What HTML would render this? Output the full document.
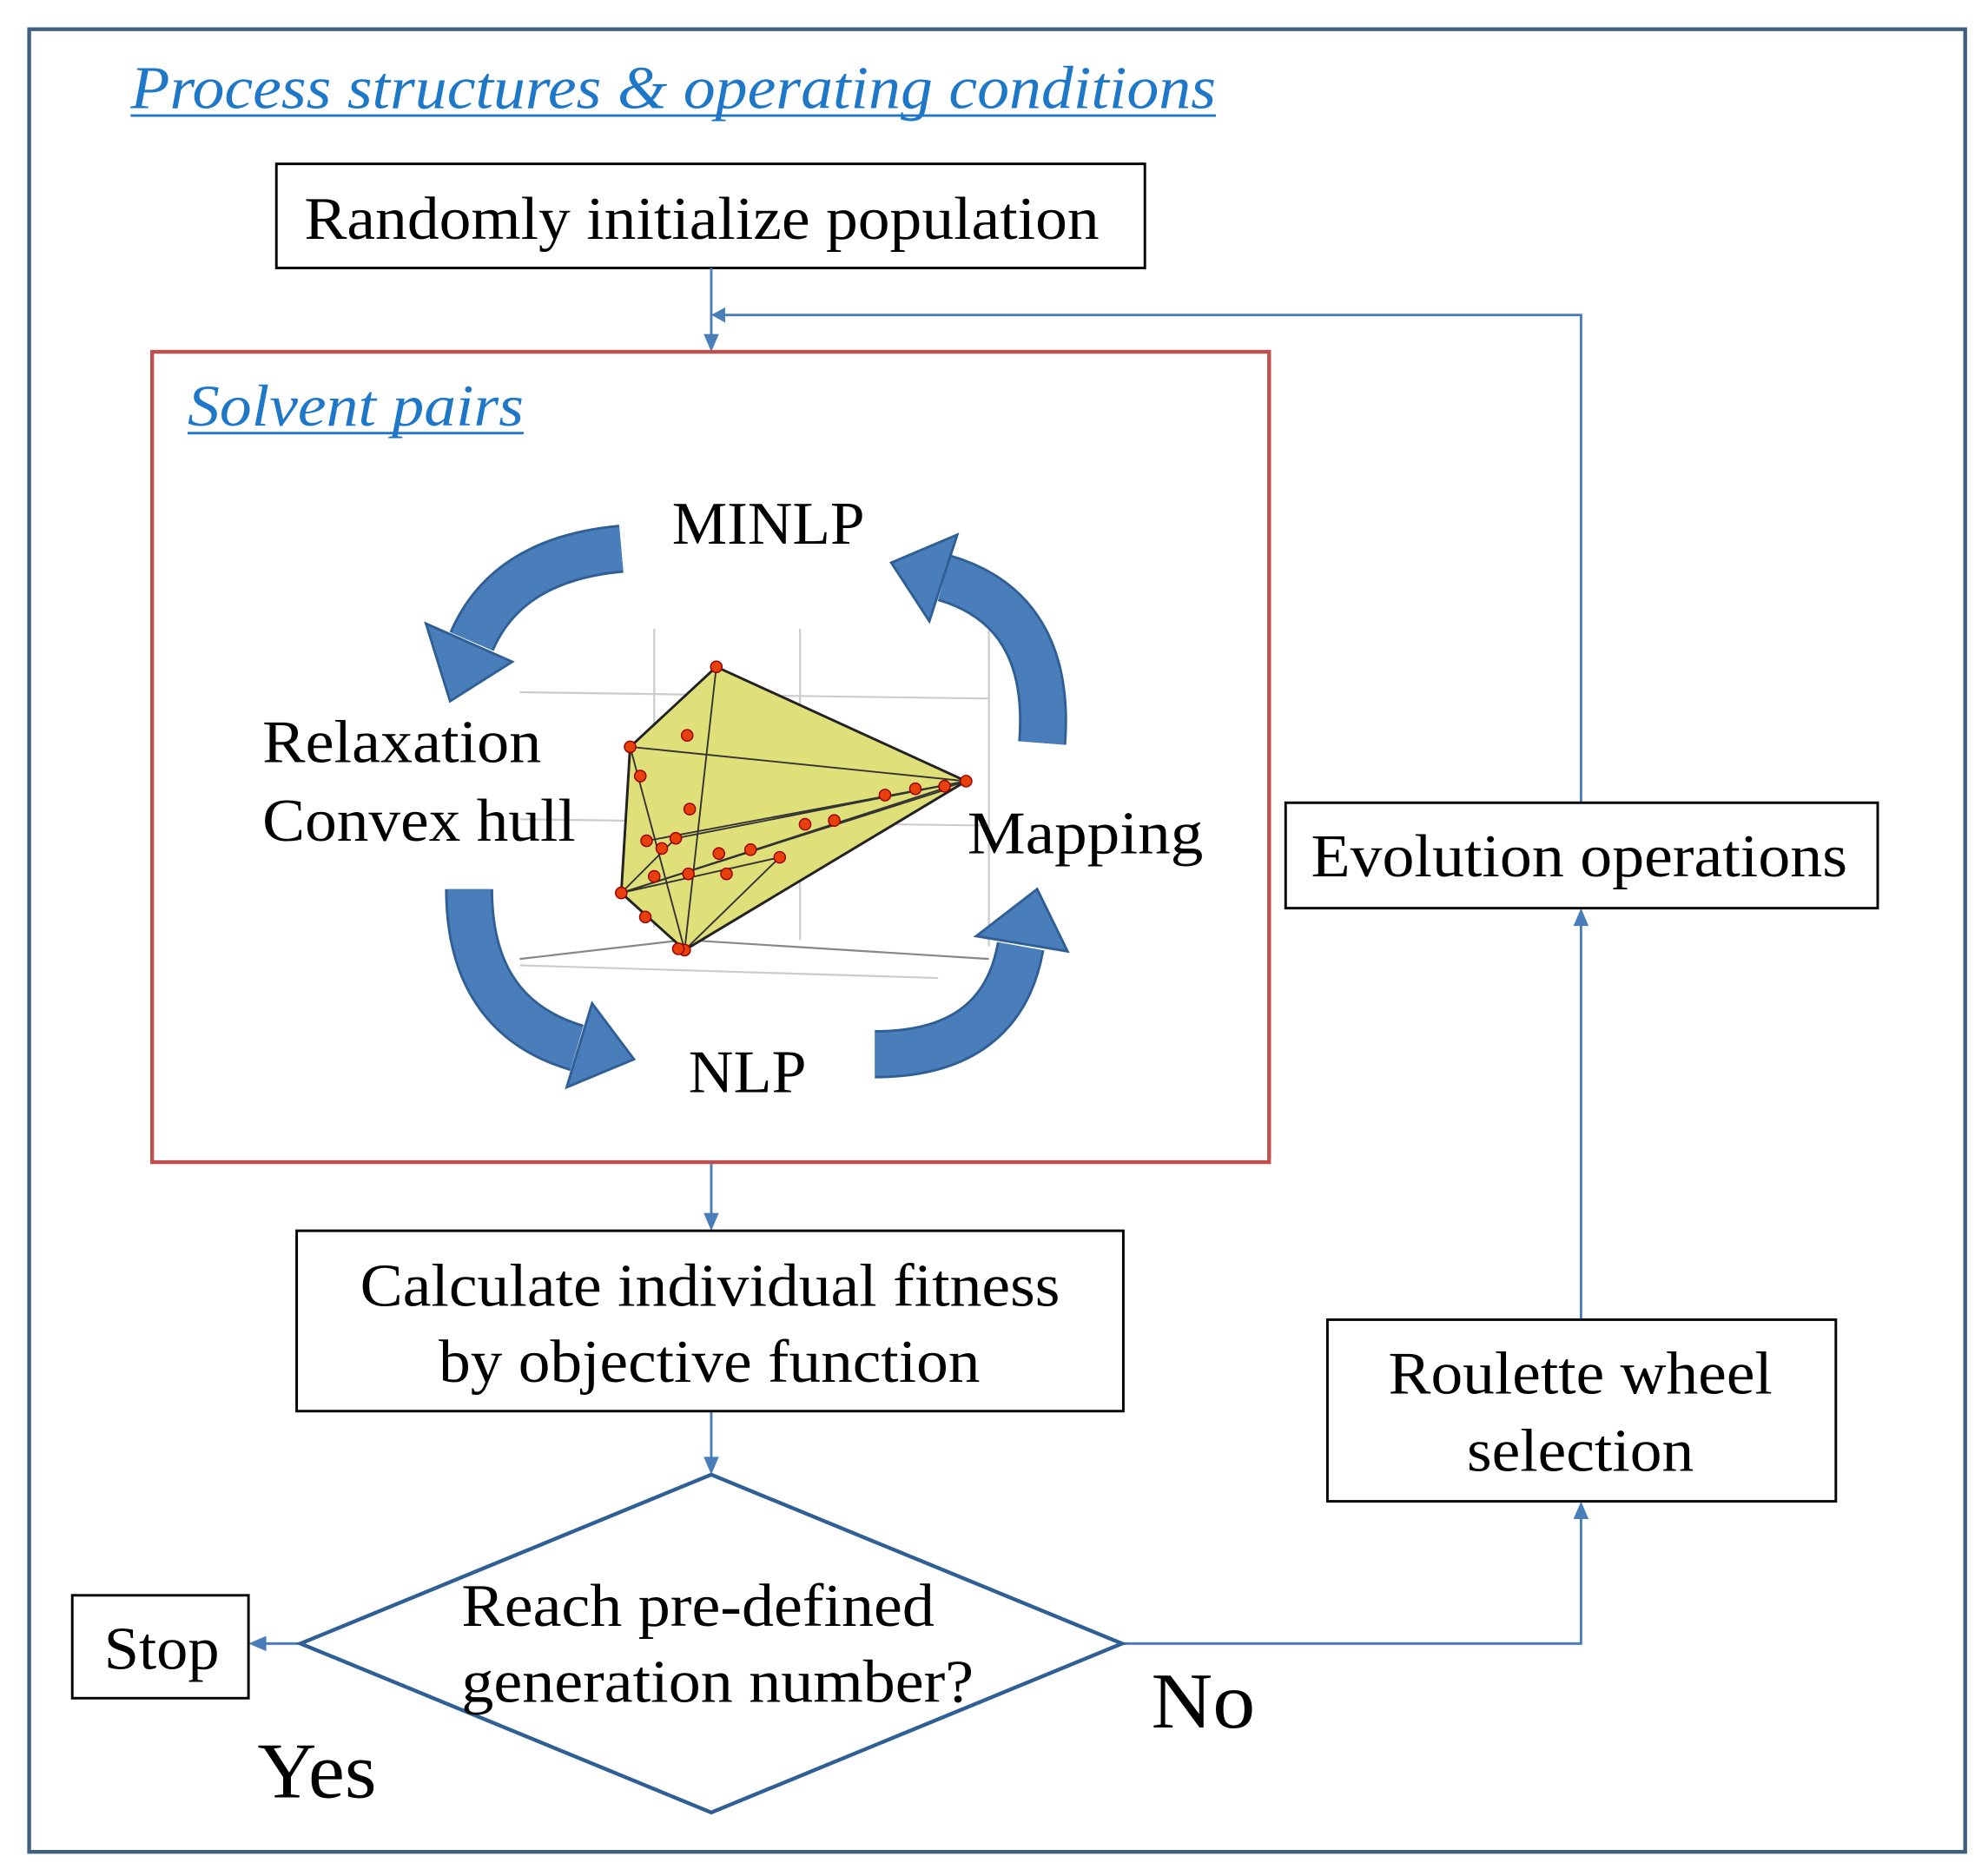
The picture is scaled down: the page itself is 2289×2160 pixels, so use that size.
<!DOCTYPE html>
<html><head><meta charset="utf-8"><style>html,body{margin:0;padding:0;background:#fff}svg{display:block}</style></head>
<body>
<svg width="2289" height="2160" viewBox="0 0 1568 1477" preserveAspectRatio="none" xmlns="http://www.w3.org/2000/svg" font-family="Liberation Serif, serif">
<rect x="0" y="0" width="1568" height="1477" fill="#fff"/>
<rect x="23" y="23" width="1527" height="1435" fill="none" stroke="#3f5f7f" stroke-width="3"/>
<text x="103" y="85" font-size="48" font-style="italic" fill="#1f77c8" textLength="856" lengthAdjust="spacingAndGlyphs">Process structures &amp; operating conditions</text>
<line x1="103" y1="91" x2="959" y2="91" stroke="#1f77c8" stroke-width="2"/>
<rect x="218" y="129" width="685" height="82" fill="#fff" stroke="#000" stroke-width="2"/>
<g font-size="48" fill="#000" lengthAdjust="spacingAndGlyphs">
<text x="240" y="188" textLength="627" lengthAdjust="spacingAndGlyphs">Randomly initialize population</text>
</g>
<g stroke="#4a7ebb" stroke-width="2" fill="none">
<line x1="561" y1="211" x2="561" y2="270"/>
<polyline points="1247,632 1247,248 568,248"/>
<line x1="561" y1="915" x2="561" y2="962"/>
<line x1="561" y1="1111" x2="561" y2="1154"/>
<line x1="237" y1="1294" x2="204" y2="1294"/>
<polyline points="885,1294 1247,1294 1247,1190"/>
<line x1="1247" y1="1039" x2="1247" y2="723"/>
</g>
<g fill="#4a7ebb">
<polygon points="561,277 555,263 567,263"/>
<polygon points="561,248 572,242 572,254"/>
<polygon points="561,969 555,955 567,955"/>
<polygon points="561,1161 555,1147 567,1147"/>
<polygon points="196,1294 210,1288 210,1300"/>
<polygon points="1247,1182 1241,1196 1253,1196"/>
<polygon points="1247,715 1241,729 1253,729"/>
</g>
<rect x="120" y="277" width="881" height="638" fill="none" stroke="#c0504d" stroke-width="3"/>
<text x="148" y="335" font-size="46" font-style="italic" fill="#1f77c8" textLength="265" lengthAdjust="spacingAndGlyphs">Solvent pairs</text>
<line x1="148" y1="341" x2="413" y2="341" stroke="#1f77c8" stroke-width="2"/>
<g stroke="#ccc" stroke-width="1.5" fill="none">
<line x1="516" y1="495" x2="516" y2="730"/>
<line x1="631" y1="495" x2="631" y2="740"/>
<line x1="780" y1="495" x2="780" y2="745"/>
<line x1="410" y1="545" x2="780" y2="550"/>
<line x1="410" y1="645" x2="780" y2="650"/>
<line x1="410" y1="760" x2="740" y2="770"/>
</g>
<g stroke="#888" stroke-width="1.5"><line x1="410" y1="755" x2="540" y2="740"/><line x1="540" y1="740" x2="780" y2="755"/></g>
<polygon points="565,525 762,615 540,748 490,703 497,588" fill="#e0e07a" stroke="#222" stroke-width="2"/>
<g stroke="#333" stroke-width="1.3" fill="none">
<line x1="565" y1="525" x2="540" y2="748"/>
<line x1="497" y1="588" x2="762" y2="615"/>
<line x1="497" y1="588" x2="540" y2="748"/>
<line x1="510" y1="662" x2="762" y2="615"/>
<line x1="490" y1="703" x2="762" y2="615"/>
<line x1="490" y1="703" x2="745" y2="622"/>
<line x1="490" y1="703" x2="533" y2="660"/>
<line x1="540" y1="748" x2="615" y2="675"/>
<line x1="533" y1="660" x2="762" y2="615"/>
<line x1="490" y1="703" x2="615" y2="675"/>
</g>
<g fill="#e8400a" stroke="#900" stroke-width="1">
<circle cx="565" cy="525" r="4.5"/><circle cx="497" cy="588" r="4.5"/><circle cx="762" cy="615" r="4.5"/>
<circle cx="490" cy="703" r="4.5"/><circle cx="540" cy="748" r="4.5"/><circle cx="535" cy="747" r="4.5"/>
<circle cx="542" cy="579" r="4.5"/><circle cx="505" cy="611" r="4.5"/><circle cx="544" cy="637" r="4.5"/>
<circle cx="510" cy="662" r="4.5"/><circle cx="522" cy="668" r="4.5"/><circle cx="533" cy="660" r="4.5"/>
<circle cx="516" cy="690" r="4.5"/><circle cx="543" cy="688" r="4.5"/><circle cx="567" cy="672" r="4.5"/>
<circle cx="592" cy="669" r="4.5"/><circle cx="573" cy="688" r="4.5"/><circle cx="615" cy="675" r="4.5"/>
<circle cx="635" cy="649" r="4.5"/><circle cx="658" cy="646" r="4.5"/><circle cx="698" cy="626" r="4.5"/>
<circle cx="722" cy="621" r="4.5"/><circle cx="745" cy="619" r="4.5"/><circle cx="509" cy="722" r="4.5"/>
</g>
<g fill="none" stroke-linecap="butt">
<g stroke="#2f5f95" stroke-width="38">
<path d="M490,432 Q400,440 372,505"/><path d="M822,585 Q830,480 745,455"/>
<path d="M370,700 Q370,800 455,825"/><path d="M690,830 Q790,830 805,745"/>
</g>
<g stroke="#4a7ebb" stroke-width="34">
<path d="M490,432 Q400,440 372,505"/><path d="M822,585 Q830,480 745,455"/>
<path d="M370,700 Q370,800 455,825"/><path d="M690,830 Q790,830 805,745"/>
</g>
</g>
<g fill="#4a7ebb" stroke="#2f5f95" stroke-width="2">
<polygon points="355,552 404,521 336,491"/>
<polygon points="703,443 755,421 733,489"/>
<polygon points="500,834 447,856 467,790"/>
<polygon points="818,700 842,749 770,737"/>
</g>
<g font-size="48" fill="#000">
<text x="530" y="428" textLength="152" lengthAdjust="spacingAndGlyphs">MINLP</text>
<text x="207" y="600" textLength="220" lengthAdjust="spacingAndGlyphs">Relaxation</text>
<text x="207" y="662" textLength="247" lengthAdjust="spacingAndGlyphs">Convex hull</text>
<text x="763" y="672" textLength="186" lengthAdjust="spacingAndGlyphs">Mapping</text>
<text x="543" y="860" textLength="93" lengthAdjust="spacingAndGlyphs">NLP</text>
</g>
<rect x="234" y="969" width="652" height="142" fill="#fff" stroke="#000" stroke-width="2"/>
<g font-size="48" fill="#000">
<text x="284" y="1028" textLength="552" lengthAdjust="spacingAndGlyphs">Calculate individual fitness</text>
<text x="346" y="1088" textLength="427" lengthAdjust="spacingAndGlyphs">by objective function</text>
</g>
<polygon points="561,1161 885,1294 561,1427 237,1294" fill="#fff" stroke="#2f5f95" stroke-width="3"/>
<g font-size="48" fill="#000">
<text x="364" y="1280" textLength="373" lengthAdjust="spacingAndGlyphs">Reach pre-defined</text>
<text x="364" y="1340" textLength="404" lengthAdjust="spacingAndGlyphs">generation number?</text>
</g>
<rect x="57" y="1256" width="139" height="81" fill="#fff" stroke="#000" stroke-width="2"/>
<text x="82" y="1314" font-size="48" textLength="91" lengthAdjust="spacingAndGlyphs">Stop</text>
<text x="203" y="1415" font-size="62" textLength="94" lengthAdjust="spacingAndGlyphs">Yes</text>
<text x="908" y="1360" font-size="62" textLength="82" lengthAdjust="spacingAndGlyphs">No</text>
<rect x="1047" y="1039" width="401" height="143" fill="#fff" stroke="#000" stroke-width="2"/>
<g font-size="48">
<text x="1095" y="1097" textLength="303" lengthAdjust="spacingAndGlyphs">Roulette wheel</text>
<text x="1157" y="1158" textLength="179" lengthAdjust="spacingAndGlyphs">selection</text>
</g>
<rect x="1014" y="632" width="467" height="83" fill="#fff" stroke="#000" stroke-width="2"/>
<text x="1034" y="690" font-size="48" textLength="423" lengthAdjust="spacingAndGlyphs">Evolution operations</text>
</svg>
</body></html>
